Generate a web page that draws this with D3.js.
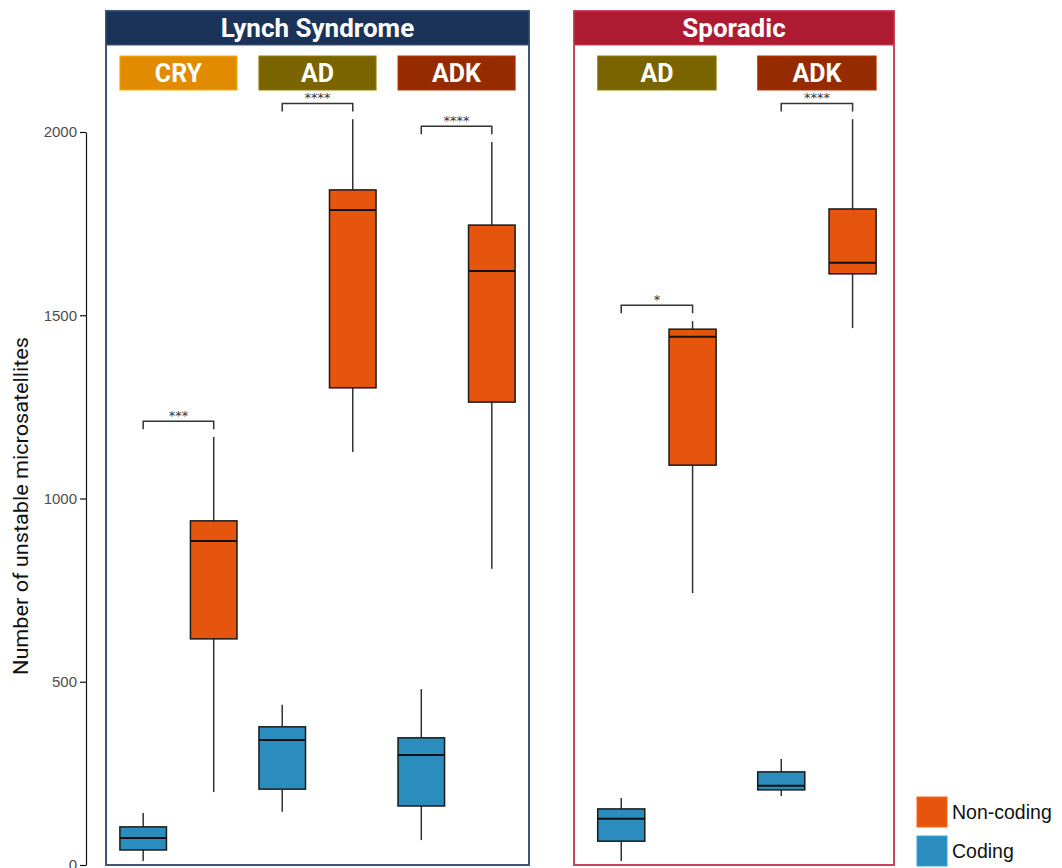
<!DOCTYPE html>
<html><head><meta charset="utf-8">
<script src="https://cdn.jsdelivr.net/npm/d3@7"></script>
<style>body{margin:0;background:#fff;} svg{display:block;}</style>
</head><body>
<script>
// ---- data ----
const groups = ["Lynch Syndrome", "Sporadic"];
const lynchCategories = ["CRY", "AD", "ADK"];
const sporadicCategories = ["AD", "ADK"];
const types = ["Coding", "Non-coding"];
// [whisker low, Q1, median, Q3, whisker high]
const lynchCoding    = [[11, 41, 74, 104, 142], [145, 207, 341, 377, 437], [68, 161, 300, 347, 480]];
const lynchNonCoding = [[199, 617, 884, 939, 1168], [1127, 1302, 1787, 1842, 2035], [808, 1263, 1621, 1746, 1973]];
const sporadicCoding    = [[11, 65, 126, 153, 183], [188, 205, 216, 254, 289]];
const sporadicNonCoding = [[742, 1091, 1441, 1462, 1484], [1465, 1613, 1643, 1790, 2035]];
const lynchSig = ["***", "****", "****"];
const sporadicSig = ["*", "****"];
const yTicks = [0, 500, 1000, 1500, 2000];

// ---- style ----
const typeColor = {"Coding": "#2b8cbe", "Non-coding": "#e6550d"};
const groupColor = {"Lynch Syndrome": "#1b3358", "Sporadic": "#ad1a31"};
const groupBorder = {"Lynch Syndrome": "#3d5678", "Sporadic": "#c9455d"};
const catColor = {"CRY": "#e08b00", "AD": "#7a6400", "ADK": "#972b00"};

const W = 1062, H = 868;
const svg = d3.select("body").append("svg").attr("width", W).attr("height", H);

const y = d3.scaleLinear().domain([0, 2000]).range([865, 132]);

// axis
const axis = svg.append("g").attr("transform", "translate(86,0)")
  .call(d3.axisLeft(y).tickValues(yTicks).tickSize(6).tickSizeOuter(0).tickFormat(d3.format("d")));
axis.select(".domain").attr("stroke", "#111").attr("stroke-width", 1.2);
axis.selectAll(".tick line").attr("stroke", "#111").attr("stroke-width", 1.2);
axis.selectAll(".tick text").attr("font-family", "Liberation Sans, Arial, sans-serif")
  .attr("font-size", 15).attr("fill", "#4d4d4d").attr("x", -9);

svg.append("text").attr("transform", "translate(28,506) rotate(-90)")
  .attr("text-anchor", "middle").attr("font-family", "Roboto, sans-serif")
  .attr("font-size", 20).attr("fill", "#111")
  .attr("textLength", 338).attr("lengthAdjust", "spacingAndGlyphs")
  .text("Number of unstable microsatellites");

const panels = [
  {name: groups[0], x0: 106, x1: 529, cats: lynchCategories, coding: lynchCoding, noncoding: lynchNonCoding, sig: lynchSig, pi: 0.158, po: 0.1, align: 0.5},
  {name: groups[1], x0: 574, x1: 894, cats: sporadicCategories, coding: sporadicCoding, noncoding: sporadicNonCoding, sig: sporadicSig, pi: 0.26, po: 0.13, align: 0.57}
];

const panelTop = 11, headerH = 34, panelBottom = 865;

panels.forEach(p => {
  const g = svg.append("g");
  // border
  g.append("rect").attr("x", p.x0).attr("y", panelTop).attr("width", p.x1 - p.x0).attr("height", panelBottom - panelTop)
    .attr("fill", "none").attr("stroke", groupBorder[p.name]).attr("stroke-width", 2);
  g.append("rect").attr("x", p.x0).attr("y", panelTop).attr("width", p.x1 - p.x0).attr("height", headerH)
    .attr("fill", groupColor[p.name]).attr("stroke", groupBorder[p.name]).attr("stroke-width", 1);
  g.append("text").attr("x", (p.x0 + p.x1) / 2).attr("y", panelTop + headerH / 2 + 9)
    .attr("text-anchor", "middle").attr("font-family", "Roboto, sans-serif").attr("font-weight", "bold")
    .attr("font-size", 26).attr("fill", "#fff").text(p.name);

  const xc = d3.scaleBand().domain(p.cats).range([p.x0, p.x1]).paddingInner(p.pi).paddingOuter(p.po).align(p.align);
  const xt = d3.scaleBand().domain(types).range([0, xc.bandwidth()]).paddingInner(0.34).paddingOuter(0);

  p.cats.forEach((c, i) => {
    const cx = xc(c);
    // category strip
    g.append("rect").attr("x", cx).attr("y", 56).attr("width", xc.bandwidth()).attr("height", 34)
      .attr("fill", catColor[c]).attr("stroke", d3.color(catColor[c]).brighter(0.6)).attr("stroke-width", 1);
    g.append("text").attr("x", cx + xc.bandwidth() / 2).attr("y", 82)
      .attr("text-anchor", "middle").attr("font-family", "Roboto, sans-serif").attr("font-weight", "bold")
      .attr("font-size", 25).attr("fill", "#fff").text(c);

    const stats = {"Coding": p.coding[i], "Non-coding": p.noncoding[i]};
    types.forEach(t => {
      const s = stats[t];
      const bx = cx + xt(t), bw = xt.bandwidth(), mx = bx + bw / 2;
      g.append("line").attr("x1", mx).attr("x2", mx).attr("y1", y(s[4])).attr("y2", y(s[3]))
        .attr("stroke", "#333").attr("stroke-width", 1.5);
      g.append("line").attr("x1", mx).attr("x2", mx).attr("y1", y(s[1])).attr("y2", y(s[0]))
        .attr("stroke", "#333").attr("stroke-width", 1.5);
      g.append("rect").attr("x", bx).attr("y", y(s[3])).attr("width", bw).attr("height", y(s[1]) - y(s[3]))
        .attr("fill", typeColor[t]).attr("stroke", "#1a1a1a").attr("stroke-width", 1.5);
      g.append("line").attr("x1", bx).attr("x2", bx + bw).attr("y1", y(s[2])).attr("y2", y(s[2]))
        .attr("stroke", "#111").attr("stroke-width", 2);
    });

    // significance bracket
    const top = Math.max(p.coding[i][4], p.noncoding[i][4]);
    const by = y(top + 43), tick = 8;
    const xa = cx + xt("Coding") + xt.bandwidth() / 2, xb = cx + xt("Non-coding") + xt.bandwidth() / 2;
    g.append("path").attr("d", `M${xa},${by + tick}V${by}H${xb}V${by + tick}`)
      .attr("fill", "none").attr("stroke", "#333").attr("stroke-width", 1.5);
    g.append("text").attr("x", (xa + xb) / 2).attr("y", by - 1).attr("text-anchor", "middle")
      .attr("font-family", "DejaVu Sans, sans-serif").attr("font-size", 13).attr("fill", "#333").text(p.sig[i]);
  });
});

// legend
const legendTypes = ["Non-coding", "Coding"];
legendTypes.forEach((t, i) => {
  const ly = 797 + i * 39;
  svg.append("rect").attr("x", 917).attr("y", ly).attr("width", 30).attr("height", 30)
    .attr("fill", typeColor[t]).attr("stroke", d3.color(typeColor[t]).brighter(0.5)).attr("stroke-width", 1);
  svg.append("text").attr("x", 952).attr("y", ly + 22).attr("font-family", "Liberation Sans, Arial, sans-serif")
    .attr("font-size", 19.5).attr("fill", "#111").text(t);
});
</script>
</body></html>
